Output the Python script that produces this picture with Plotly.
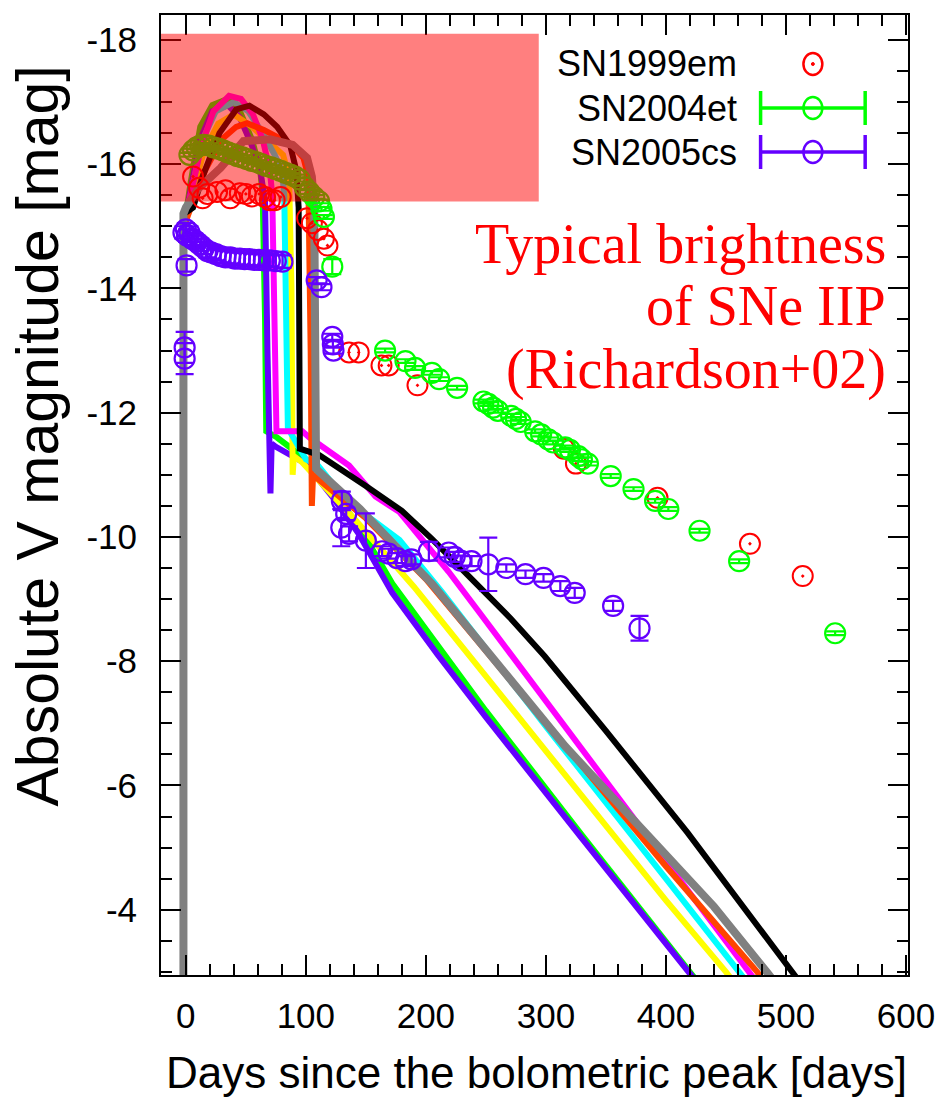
import plotly.graph_objects as go

# ---------------- model light curves (day, absolute V mag) ----------------
green_day = [-2, -1.5, 4, 12, 22, 35, 45, 55, 62, 64, 66, 67, 76, 100, 122, 145, 172, 210, 250, 330, 421, 426]
green_mag = [-2.5, -15.0, -15.7, -16.6, -16.95, -17.05, -16.85, -16.4, -15.9, -15.5, -13.5, -11.7, -11.6, -11.25, -10.75, -10.15, -9.25, -8.25, -7.2, -5.2, -3.0, -2.85]

purple_day = [-2, -1.5, 4, 12, 22, 35, 45, 55, 62, 66, 68, 69.5, 70.5, 71.5, 75, 100, 122, 144, 172, 210, 250, 330, 419, 425]
purple_mag = [-2.5, -15.0, -15.6, -16.4, -16.85, -16.95, -16.75, -16.3, -15.9, -15.4, -13.0, -11.6, -10.7, -11.5, -11.45, -11.18, -10.65, -10.05, -9.1, -8.1, -7.1, -5.15, -3.0, -2.85]

yellow_day = [-2, -1.5, 5, 15, 27, 40, 55, 70, 81, 86, 88, 89, 90, 97, 140, 190, 300, 400, 450, 456]
yellow_mag = [-2.5, -15.0, -15.5, -16.2, -16.65, -16.8, -16.6, -16.35, -16.15, -15.8, -14.0, -11.0, -11.3, -11.2, -10.3, -9.2, -6.55, -4.15, -3.0, -2.85]

cyan_day = [-2, -1.5, 5, 14, 25, 40, 52, 64, 74, 80, 82, 84, 85, 100, 110, 133, 178, 214, 300, 400, 461, 467]
cyan_mag = [-2.5, -15.0, -15.6, -16.4, -16.85, -17.0, -16.85, -16.5, -16.15, -15.9, -15.5, -13.0, -11.75, -11.25, -11.15, -10.6, -9.95, -9.1, -6.95, -4.5, -3.0, -2.85]

magenta_day = [-2, -1.5, 5, 13, 23, 36, 46, 56, 64, 70, 72, 74, 75.5, 97, 103, 136, 158, 178, 219, 244, 300, 350, 400, 469, 475]
magenta_mag = [-2.5, -15.0, -15.6, -16.3, -16.85, -17.1, -17.05, -16.8, -16.4, -15.9, -15.5, -13.0, -11.7, -11.7, -11.6, -11.15, -10.65, -10.4, -9.44, -8.8, -7.35, -6.05, -4.75, -3.0, -2.85]

orangered_day = [-2, -1.5, 6, 16, 30, 42, 51, 65, 80, 89, 98, 102, 104, 105, 106, 112, 150, 200, 300, 400, 476, 482]
orangered_mag = [-2.5, -15.0, -15.4, -15.9, -16.4, -16.6, -16.66, -16.55, -16.4, -16.3, -16.1, -15.8, -13.0, -10.5, -11.0, -10.9, -10.3, -9.32, -7.0, -4.7, -3.0, -2.85]

black_day = [-2, -1.5, 6, 14, 28, 42, 53, 65, 76, 87, 92, 94, 95, 111, 150, 180, 205, 238, 271, 299, 350, 418, 443, 505, 511]
black_mag = [-2.5, -15.2, -15.3, -15.8, -16.5, -16.88, -16.94, -16.8, -16.6, -16.3, -15.9, -15.3, -11.42, -11.32, -10.82, -10.42, -9.97, -9.32, -8.68, -8.08, -6.88, -5.24, -4.6, -3.0, -2.85]

gray_day = [-2, -2, 0, 10, 29, 48, 70, 89, 101, 105, 107, 108.5, 111, 145, 205, 260, 316, 380, 440, 484, 490]
gray_mag = [-2.5, -15.2, -15.3, -15.6, -15.94, -16.37, -16.4, -16.31, -16.1, -15.8, -15.3, -11.1, -11.05, -10.45, -9.25, -7.95, -6.63, -5.3, -4.05, -3.0, -2.85]

# ---------------- observed supernovae ----------------
sn1999em_day = [6, 11, 14, 18, 26, 33, 37, 45, 50, 55, 61, 66, 70, 74, 79,
                101, 105, 110, 115, 118, 136, 144, 163, 169, 193, 315, 325, 393, 470, 514]
sn1999em_mag = [-15.8, -15.62, -15.45, -15.52, -15.55, -15.58, -15.45, -15.53, -15.52, -15.48, -15.52, -15.47, -15.42, -15.42, -15.47,
                -15.13, -15.05, -14.94, -14.8, -14.69, -12.97, -12.97, -12.76, -12.76, -12.44, -11.42, -11.18, -10.63, -9.89, -9.37]

sn2004et_day = [3, 6, 9, 12, 15, 19, 23, 27, 31, 35, 39, 43, 47, 51, 55, 59, 63, 67, 71, 75, 79, 83, 87, 91, 95, 99, 103, 107, 111, 113, 115, 122,
                166, 183, 191, 205, 211, 226, 248, 252, 256, 260, 271, 275, 279, 291, 296, 302, 306, 316, 320, 327, 330, 335, 354, 373, 391, 402, 428, 461, 541]
sn2004et_mag = [-16.15, -16.22, -16.27, -16.3, -16.31, -16.3, -16.27, -16.25, -16.22, -16.19, -16.16, -16.13, -16.11, -16.08, -16.05, -16.03, -16.0, -15.97, -15.95, -15.92, -15.89, -15.86, -15.83, -15.8, -15.75, -15.63, -15.55, -15.47, -15.4, -15.28, -15.15, -14.35,
                -13.0, -12.83, -12.72, -12.64, -12.54, -12.4, -12.18, -12.14, -12.08, -12.03, -11.95, -11.9, -11.85, -11.7, -11.65, -11.57, -11.52, -11.44, -11.4, -11.3, -11.25, -11.18, -10.98, -10.77, -10.58, -10.45, -10.1, -9.61, -8.45]
sn2004et_err = [0.03] * 31 + [0.12] + [0.03] * 29

sn2005cs_day = [-1, -1, 0.6, -2, 0, 1, 3, 5, 7, 9, 12, 15, 18, 21, 25, 29, 33, 37, 41, 45, 49, 53, 57, 61, 65, 70, 75, 80.5,
                109, 113, 122, 122.5, 123, 130, 133.6, 129.5, 136, 150, 163.5, 169, 176, 183, 188, 202.5, 219, 224, 229, 238, 252,
                267, 283, 298, 312, 324, 356, 378]
sn2005cs_mag = [-13.05, -12.87, -14.37, -14.9, -14.95, -14.85, -14.9, -14.8, -14.78, -14.75, -14.7, -14.65, -14.6, -14.58, -14.55, -14.52, -14.5, -14.5, -14.48, -14.48, -14.47, -14.47, -14.46, -14.46, -14.45, -14.45, -14.44, -14.43,
                -14.13, -14.02, -13.22, -13.1, -13.0, -10.58, -10.37, -10.15, -10.05, -9.94, -9.77, -9.73, -9.66, -9.61, -9.64, -9.77, -9.75, -9.68, -9.62, -9.61, -9.56,
                -9.5, -9.4, -9.34, -9.21, -9.1, -8.89, -8.53]
sn2005cs_err = [0.25, 0.25, 0.1] + [0.1] * 25 + [0.05, 0.05, 0.05, 0.05, 0.05, 0.15, 0.1, 0.3, 0.12, 0.44, 0.08, 0.08, 0.08, 0.08, 0.08, 0.15, 0.08, 0.08, 0.08, 0.08, 0.43,
                0.06, 0.06, 0.06, 0.08, 0.08, 0.08, 0.2]

# typical brightness box (Richardson+02)
box_day_max = 294
box_mag = [-15.4, -18.1]

x_ticks = [0, 100, 200, 300, 400, 500, 600]
y_ticks = [-18, -16, -14, -12, -10, -8, -6, -4]

PURPLE = "#6400ff"
GREEN = "#00ff00"

curves = [
    (green_day, green_mag, GREEN, 6),
    (purple_day, purple_mag, PURPLE, 6),
    (yellow_day, yellow_mag, "#ffff00", 6),
    (cyan_day, cyan_mag, "#00ffff", 6),
    (magenta_day, magenta_mag, "#ff00ff", 6),
    (orangered_day, orangered_mag, "#ff4500", 6),
    (black_day, black_mag, "#000000", 6),
    (gray_day, gray_mag, "#808080", 8),
]

fig = go.Figure()
for d, m, c, w in curves:
    fig.add_trace(go.Scatter(x=d, y=m, mode="lines", line=dict(color=c, width=w),
                             showlegend=False, hoverinfo="skip"))

fig.add_trace(go.Scatter(x=sn1999em_day, y=sn1999em_mag, mode="markers", name="SN1999em",
                         marker=dict(symbol="circle-open-dot", size=20, color="#ff0000", line=dict(width=2)),
                         showlegend=False))
fig.add_trace(go.Scatter(x=sn2004et_day, y=sn2004et_mag, mode="markers", name="SN2004et",
                         marker=dict(symbol="circle-open", size=20, color=GREEN, line=dict(width=2.2)),
                         error_y=dict(type="data", array=sn2004et_err, color=GREEN, thickness=2.2, width=9),
                         showlegend=False))
fig.add_trace(go.Scatter(x=sn2005cs_day, y=sn2005cs_mag, mode="markers", name="SN2005cs",
                         marker=dict(symbol="circle-open", size=20, color=PURPLE, line=dict(width=2.2)),
                         error_y=dict(type="data", array=sn2005cs_err, color=PURPLE, thickness=2.2, width=9),
                         showlegend=False))

# plot area in pixels: left 161, right 911, top 15, bottom 975
L, R, T, B = 161, 911, 15, 975
def px(xp):
    return (xp - L) / (R - L)
def py(yp):
    return (B - yp) / (B - T)

shapes = [
    dict(type="rect", xref="paper", yref="y", x0=0, x1=px(186 + box_day_max * 1.205),
         y0=box_mag[0], y1=box_mag[1], fillcolor="rgba(255,0,0,0.5)", line=dict(width=0), layer="above"),
]

# legend (gnuplot style: text left, symbol right)
leg_rows = [("SN1999em", "#ff0000", 64, False), ("SN2004et", GREEN, 108, True), ("SN2005cs", PURPLE, 152, True)]
annotations = []
for label, col, yrow, bars in leg_rows:
    annotations.append(dict(text=label, xref="paper", yref="paper", x=px(741), y=py(yrow),
                            xanchor="right", yanchor="middle", showarrow=False,
                            font=dict(family="Liberation Sans, Arial", size=36, color="black")))
    shapes.append(dict(type="circle", xref="paper", yref="paper", x0=px(806), x1=px(825),
                       y0=py(yrow + 11), y1=py(yrow - 11), line=dict(color=col, width=2.5)))
    if bars:
        shapes.append(dict(type="line", xref="paper", yref="paper", x0=px(763), x1=px(868),
                           y0=py(yrow), y1=py(yrow), line=dict(color=col, width=3.5)))
        for xc in (763, 868):
            shapes.append(dict(type="line", xref="paper", yref="paper", x0=px(xc), x1=px(xc),
                               y0=py(yrow - 17), y1=py(yrow + 17), line=dict(color=col, width=3.5)))
    else:
        shapes.append(dict(type="circle", xref="paper", yref="paper", x0=px(814), x1=px(817),
                           y0=py(yrow + 1.5), y1=py(yrow - 1.5), fillcolor=col, line=dict(color=col, width=1)))

for txt, yc in [("Typical brightness", 244), ("of SNe IIP", 306), ("(Richardson+02)", 369)]:
    annotations.append(dict(text=txt, xref="paper", yref="paper", x=px(891), y=py(yc),
                            xanchor="right", yanchor="middle", showarrow=False,
                            font=dict(family="Liberation Serif, Times New Roman", size=56, color="#ff0000")))

annotations.append(dict(text="Days since the bolometric peak [days]", xref="paper", yref="paper",
                        x=px(538), y=py(1072), xanchor="center", yanchor="middle", showarrow=False,
                        font=dict(family="Liberation Sans, Arial", size=44, color="black")))
annotations.append(dict(text="Absolute V magnitude [mag]", xref="paper", yref="paper",
                        x=px(38), y=py(436), xanchor="center", yanchor="middle", showarrow=False,
                        textangle=-90,
                        font=dict(family="Liberation Sans, Arial", size=59, color="black")))

axis_common = dict(showline=True, linecolor="black", linewidth=2, mirror="ticks", ticks="inside",
                   tickcolor="black", tickwidth=1.5, ticklen=20, showgrid=False, zeroline=False,
                   tickfont=dict(family="Liberation Sans, Arial", size=35, color="black"))

fig.update_layout(
    width=947, height=1110,
    margin=dict(l=L, r=947 - R, t=T, b=1110 - B),
    paper_bgcolor="white", plot_bgcolor="white",
    showlegend=False,
    shapes=shapes, annotations=annotations,
    xaxis=dict(range=[-20.7, 601.7], tickmode="array", tickvals=x_ticks, ticktext=[str(v) for v in x_ticks],
               ticklabelstandoff=9,
               minor=dict(tickmode="linear", tick0=0, dtick=20, ticks="inside", ticklen=11, tickcolor="black", tickwidth=1.5),
               **axis_common),
    yaxis=dict(range=[-2.95, -18.4], tickmode="array", tickvals=y_ticks, ticktext=[str(v) for v in y_ticks],
               ticklabelstandoff=15,
               minor=dict(tickmode="linear", tick0=0, dtick=0.5, ticks="inside", ticklen=11, tickcolor="black", tickwidth=1.5),
               **axis_common),
)

fig.write_html("out.html")
